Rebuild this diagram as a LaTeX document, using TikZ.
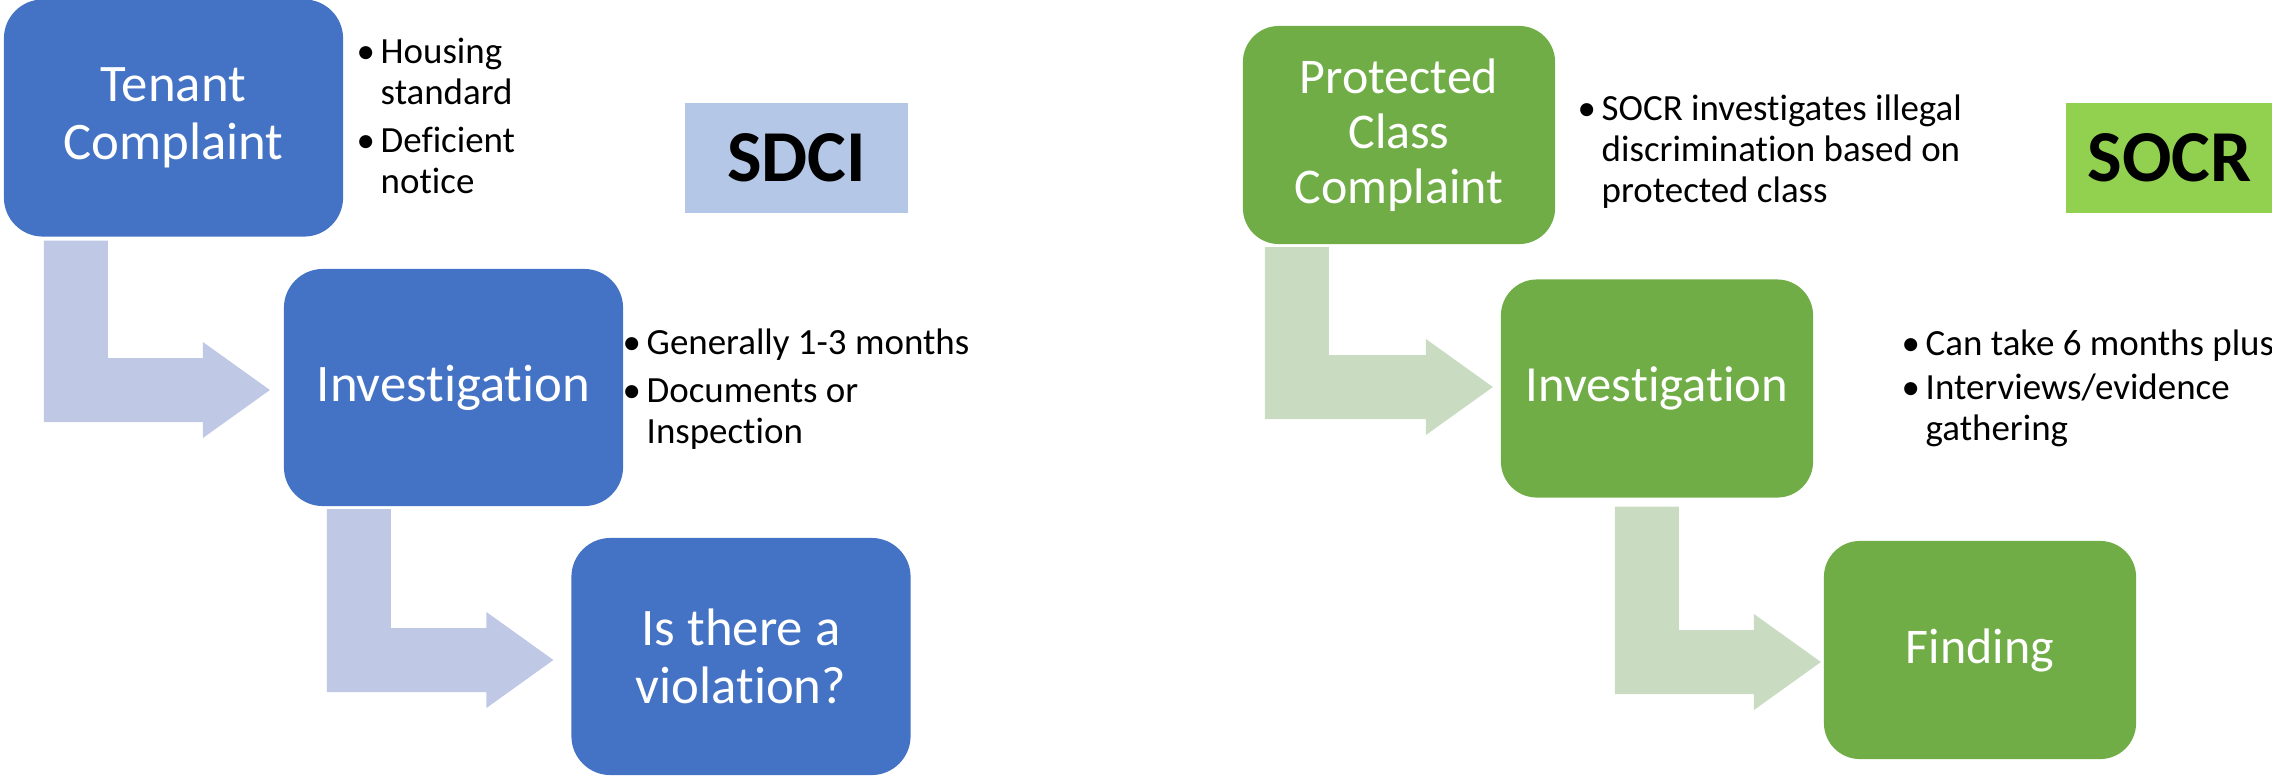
\documentclass[tikz,border=0pt]{standalone}
\usepackage{fontspec}
\setmainfont{Carlito}[Ligatures=NoCommon, Contextuals=NoAlternate]
\usetikzlibrary{calc}
\definecolor{sdciblue}{HTML}{4472C4}
\definecolor{sdcipale}{HTML}{BFC9E5}
\definecolor{sdcitag}{HTML}{B4C7E7}
\definecolor{socrgreen}{HTML}{70AD47}
\definecolor{socrpale}{HTML}{C9DCC2}
\definecolor{socrtag}{HTML}{92D050}
\tikzset{
	bluebox/.style={fill=sdciblue, text=white, rounded corners=0.39cm, minimum width=3.39cm, minimum height=2.37cm, align=center, inner sep=0pt, outer sep=0pt, font=\fontsize{15}{16.5}\selectfont},
	greenbox/.style={bluebox, fill=socrgreen, rounded corners=0.36cm, minimum width=3.12cm, minimum height=2.18cm, font=\fontsize{14.4}{16.5}\selectfont},
	tagbox/.style={inner sep=0pt, outer sep=0pt, minimum height=1.10cm, font=\bfseries\fontsize{20.8}{24}\selectfont},
	notes/.style={anchor=base west, inner sep=0pt, font=\fontsize{10.5}{11.7}\selectfont}
}
\def\bentarrow[#1](#2)(#3)(#4)(#5){
	\coordinate (arrtop) at ($(#2.south west)+(#4)$);
	\coordinate (arrtip) at ($(#3.west)+(#5)$);
	\fill[#1] (arrtop) -- ++(64,0) -- ($(arrtop |- arrtip)+(64,-32)$) -- ($(arrtip)+(-67,-32)$)
		-- ($(arrtip)+(-67,-48)$) -- (arrtip) -- ($(arrtip)+(-67,48)$) -- ($(arrtip)+(-67,32)$)
		-- ($(arrtop |- arrtip)+(0,32)$) -- cycle;
}

\begin{document}
\begin{tikzpicture}[x=0.01cm, y=-0.01cm]
		\useasboundingbox (0,0) rectangle (2272,775);
		%%%%% SDCI %%%%%
		\node[bluebox] (tenant) at (173.5,118) {Tenant\\Complaint};
		\node[bluebox] (invsdci) at (453.5,387.5) {Investigation};
		\node[bluebox] (violation) at (741,656.5) {Is there a\\violation?};
		
		\node[tagbox, fill=sdcitag, minimum width=2.23cm] (sdci) at (796.5,158) {SDCI};
		
		\node[notes] (housing) at (356,63) {\begin{tabular}[t]{@{}p{0.24cm}@{}l@{}}
				\textbullet & Housing\\ & standard\\[2pt]
				\textbullet & Deficient\\ & notice
			\end{tabular}};
		\node[notes] (months) at (622,354) {\begin{tabular}[t]{@{}p{0.24cm}@{}l@{}}
				\textbullet & Generally 1-3 months\\[2pt]
				\textbullet & Documents or\\ & Inspection
			\end{tabular}};
		
		\bentarrow[sdcipale](tenant)(invsdci)(40,4)(-14,2.5)
		\bentarrow[sdcipale](invsdci)(violation)(43,3)(-18,3.5)
		
		%%%%% SOCR %%%%%
		\node[greenbox, font=\fontsize{14.2}{15.6}\selectfont] (protected) at (1399,135) {Protected\\Class\\Complaint};
		\node[greenbox] (invsocr) at (1657,388.5) {Investigation};
		\node[greenbox, font=\fontsize{14.2}{16.5}\selectfont] (finding) at (1980,650) {Finding};
		
		\node[tagbox, fill=socrtag, minimum width=2.07cm] (socr) at (2169.5,158) {SOCR};
		
		\node[notes] (illegal) at (1577,120) {\begin{tabular}[t]{@{}p{0.24cm}@{}l@{}}
				\textbullet & SOCR investigates illegal\\ & discrimination based on\\ & protected class
			\end{tabular}};
		\node[notes] (sixmonths) at (1901,355) {\begin{tabular}[t]{@{}p{0.24cm}@{}l@{}}
				\textbullet & Can take 6 months plus\\[1pt]
				\textbullet & Interviews/evidence\\ & gathering
			\end{tabular}};
		
		\bentarrow[socrpale](protected)(invsocr)(22,3)(-8,-1.5)
		\bentarrow[socrpale](invsocr)(finding)(114,9)(-3,12)
	\end{tikzpicture}
\end{document}
